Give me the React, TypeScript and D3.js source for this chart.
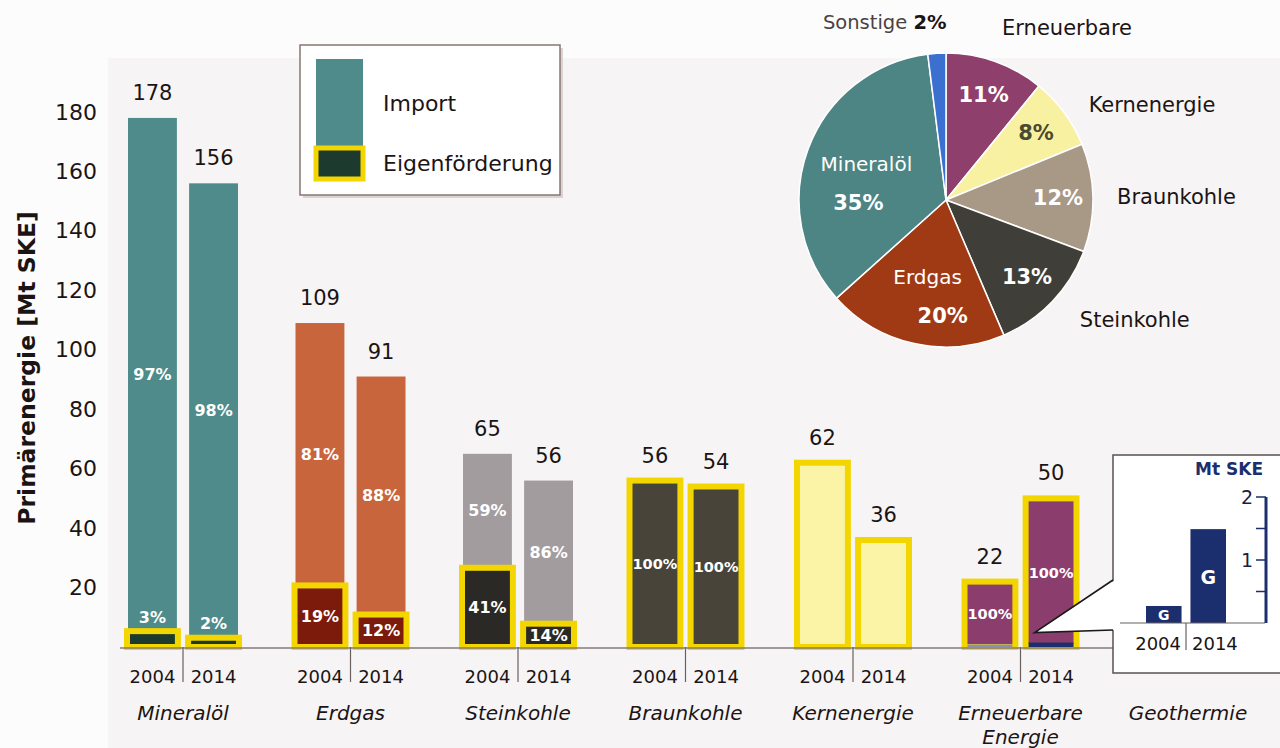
import React from "react";
import * as d3 from "d3";

const categories = ["Mineralöl", "Erdgas", "Steinkohle", "Braunkohle", "Kernenergie", "Erneuerbare Energie", "Geothermie"];
const years = ["2004", "2014"];
const total2004 = [178, 109, 65, 56, 62, 22];
const total2014 = [156, 91, 56, 54, 36, 50];
const domesticPct2004: (number | null)[] = [3, 19, 41, 100, null, 100];
const domesticPct2014: (number | null)[] = [2, 12, 14, 100, null, 100];
const geothermie = [0.27, 1.49];
const yTicks = [20, 40, 60, 80, 100, 120, 140, 160, 180];
const insetTicks = [0.5, 1, 1.5, 2];
const insetTickLabels = [1, 2];
const pieNames = ["Erneuerbare", "Kernenergie", "Braunkohle", "Steinkohle", "Erdgas", "Mineralöl", "Sonstige"];
const pieShares = [11, 8, 12, 13, 20, 35, 2];

const importColors = ["#4f8b8a", "#c8653d", "#a39c9f", "#48443a", "#fbf4a6", "#8b3d6d"];
const domesticColors = ["#1d3a2e", "#7c1b0b", "#2a2925", "#48443a", "#fbf4a6", "#8b3d6d"];
const pieColors = ["#8e3f6c", "#f9f1a2", "#a89886", "#3f3e38", "#a03a14", "#4c8584", "#3c70d0"];
const pieNameNudge: [number, number][] = [[-6, 2], [-6, 15], [-14, 0], [0, -8], [0, 0], [0, 0], [12, 7]];
const YELLOW = "#f3d500";
const NAVY = "#1b2f6e";
const FONT = "'DejaVu Sans', Verdana, sans-serif";
const TXT = "#1c1414";

export default function App() {
  const W = 1280, H = 748;
  const y = d3.scaleLinear().domain([0, 180]).range([647, 112]);
  const x = d3.scaleBand().domain(categories).range([99.25, 1271.75]).padding(0);
  const sub = d3.scaleBand().domain(years).range([-55, 55]).paddingInner(0.2);
  const bw = sub.bandwidth();
  const y0 = y(0);
  const cx = (c: string) => (x(c) as number) + x.bandwidth() / 2;

  // inset scales
  const yi = d3.scaleLinear().domain([0, 2]).range([623, 497]);
  const subI = d3.scaleBand().domain(years).range([-42, 38]).paddingInner(0.2);
  const geoCx = cx(categories[6]);
  const divI = geoCx - 2;

  // pie
  const pcx = 946, pcy = 200, pr = 147;
  const pie = d3.pie<number>().sort(null).value((d) => d)(pieShares);
  const arc = d3.arc<d3.PieArcDatum<number>>().innerRadius(0).outerRadius(pr);
  const labelArc = d3.arc<d3.PieArcDatum<number>>().innerRadius(112).outerRadius(112);
  const innerArc = d3.arc<d3.PieArcDatum<number>>().innerRadius(85).outerRadius(85);
  const outerArc = d3.arc<d3.PieArcDatum<number>>().innerRadius(185).outerRadius(185);

  const bars: React.ReactNode[] = [];
  const labels: React.ReactNode[] = [];
  categories.slice(0, 6).forEach((c, i) => {
    const vals = [total2004[i], total2014[i]];
    const pcts = [domesticPct2004[i], domesticPct2014[i]];
    years.forEach((yr, j) => {
      const v = vals[j];
      const p = pcts[j];
      const bx = cx(c) + (sub(yr) as number);
      const top = y(v);
      const key = `${i}-${j}`;
      if (p === null) {
        bars.push(
          <rect key={key} x={bx - 1} y={top} width={bw + 2} height={y0 - top} fill={importColors[i]} stroke={YELLOW} strokeWidth={6} />
        );
      } else if (p === 100) {
        bars.push(
          <rect key={key} x={bx - 1} y={top} width={bw + 2} height={y0 - top} fill={domesticColors[i]} stroke={YELLOW} strokeWidth={6} />
        );
        if (i === 5) {
          const gTop = Math.min(y(geothermie[j]), y0 - 2.5);
          bars.push(
            <rect key={key + "g"} x={bx + 2} y={gTop} width={bw - 4} height={y0 - gTop} fill={j === 0 ? "#8c90b0" : NAVY} />
          );
        }
        labels.push(
          <text key={key + "p"} x={bx + bw / 2} y={(top + y0) / 2} textAnchor="middle" dominantBaseline="central" fill="#fff" fontWeight="bold" fontSize={14.5}>
            100%
          </text>
        );
      } else {
        const dom = (v * p) / 100;
        const dTop = y(dom);
        bars.push(<rect key={key} x={bx} y={top} width={bw} height={y0 - top} fill={importColors[i]} />);
        bars.push(
          <rect key={key + "d"} x={bx - 1} y={dTop} width={bw + 2} height={y0 - dTop} fill={domesticColors[i]} stroke={YELLOW} strokeWidth={6} />
        );
        labels.push(
          <text key={key + "i"} x={bx + bw / 2} y={(top + dTop) / 2} textAnchor="middle" dominantBaseline="central" fill="#fff" fontWeight="bold" fontSize={16}>
            {`${100 - p}%`}
          </text>
        );
        const inside = y0 - dTop > 20;
        labels.push(
          <text key={key + "dl"} x={bx + bw / 2} y={inside ? (dTop + y0) / 2 : dTop - 14} textAnchor="middle" dominantBaseline="central" fill="#fff" fontWeight="bold" fontSize={16}>
            {`${p}%`}
          </text>
        );
      }
      labels.push(
        <text key={key + "v"} x={bx + bw / 2} y={top - 25} textAnchor="middle" dominantBaseline="central" fill={TXT} fontSize={21}>
          {v}
        </text>
      );
    });
  });

  // callout geometry
  const erX = cx(categories[5]) + (sub("2014") as number);
  const tipX = erX + 8;
  const tipY = y(geothermie[1]) - 10;
  const boxX = 1113, boxY = 455, boxH = 218;
  const cTop = 580, cBot = 630;

  return (
    <svg width={W} height={H} style={{ position: "absolute", left: 0, top: 0 }} fontFamily={FONT}>
      <rect x={0} y={0} width={W} height={H} fill="#fdfcfc" />
      <rect x={108} y={58} width={W - 108} height={H - 58} fill="#f6f4f4" />

      {/* y axis */}
      {yTicks.map((t) => (
        <text key={t} x={97} y={y(t)} textAnchor="end" dominantBaseline="central" fontSize={22} fill={TXT}>
          {t}
        </text>
      ))}
      <text transform={`translate(27,${368}) rotate(-90)`} textAnchor="middle" dominantBaseline="central" fontSize={23.5} fontWeight="bold" fill={TXT}>
        Primärenergie [Mt SKE]
      </text>

      {/* legend */}
      <rect x={303} y={48} width={260} height={150} fill="#d8d4d4" />
      <rect x={300} y={45} width={260} height={150} fill="#fff" stroke="#8a7474" strokeWidth={1.5} />
      <rect x={316} y={59} width={47} height={88} fill={importColors[0]} />
      <rect x={316} y={148} width={47} height={31} fill={domesticColors[0]} stroke={YELLOW} strokeWidth={5} />
      <text x={383} y={103} dominantBaseline="central" fontSize={22} fill={TXT}>Import</text>
      <text x={383} y={163} dominantBaseline="central" fontSize={22} fill={TXT}>Eigenförderung</text>

      {/* bars */}
      {bars}
      <line x1={120} x2={boxX} y1={y0 + 1} y2={y0 + 1} stroke="#857a7a" strokeWidth={1.5} />
      {labels}

      {/* x labels */}
      {categories.slice(0, 6).map((c) => (
        <g key={c}>
          <line x1={cx(c)} x2={cx(c)} y1={y0} y2={y0 + 35} stroke="#6a6060" strokeWidth={1.2} />
          {years.map((yr) => (
            <text key={yr} x={cx(c) + (sub(yr) as number) + bw / 2} y={676} textAnchor="middle" dominantBaseline="central" fontSize={18} fill={TXT}>
              {yr}
            </text>
          ))}
        </g>
      ))}
      {categories.map((c) => {
        const parts = c.split(" ");
        return parts.map((p, k) => (
          <text key={c + k} x={cx(c)} y={713 + k * 24} textAnchor="middle" dominantBaseline="central" fontSize={20} fontStyle="italic" fill={TXT}>
            {p}
          </text>
        ));
      })}

      {/* inset */}
      <rect x={boxX} y={boxY} width={200} height={boxH} fill="#fff" stroke="#5a5050" strokeWidth={1.5} />
      <polygon points={`${boxX + 2},${cTop} ${tipX},${tipY} ${boxX + 2},${cBot}`} fill="#fff" />
      <polyline points={`${boxX},${cTop} ${tipX},${tipY} ${boxX},${cBot}`} fill="none" stroke="#1a1a1a" strokeWidth={1.6} />
      {years.map((yr, j) => {
        const bx = geoCx + (subI(yr) as number);
        const bwi = subI.bandwidth();
        const t = yi(geothermie[j]);
        return (
          <g key={yr}>
            <rect x={bx} y={t} width={bwi} height={yi(0) - t} fill={NAVY} />
            <text x={bx + bwi / 2} y={(t + yi(0)) / 2 + 1} textAnchor="middle" dominantBaseline="central" fill="#fff" fontWeight="bold" fontSize={j === 0 ? 14 : 19}>
              G
            </text>
            <text x={j === 0 ? divI - 5 : divI + 6} y={643} textAnchor={j === 0 ? "end" : "start"} dominantBaseline="central" fontSize={18} fill={TXT}>
              {yr}
            </text>
          </g>
        );
      })}
      <line x1={1120} x2={1265} y1={yi(0)} y2={yi(0)} stroke="#6a6060" strokeWidth={1.2} />
      <line x1={divI} x2={divI} y1={yi(0)} y2={yi(0) + 27} stroke="#6a6060" strokeWidth={1.2} />
      <line x1={1266} x2={1266} y1={yi(0)} y2={yi(2)} stroke={NAVY} strokeWidth={3} />
      {insetTicks.map((t) => (
        <line key={t} x1={1256} x2={1266} y1={yi(t)} y2={yi(t)} stroke={NAVY} strokeWidth={1.5} />
      ))}
      {insetTickLabels.map((t) => (
        <text key={t} x={1253} y={yi(t)} textAnchor="end" dominantBaseline="central" fontSize={19} fill="#1a1d44">
          {t}
        </text>
      ))}
      <text x={1263} y={469} textAnchor="end" dominantBaseline="central" fontSize={17} fontWeight="bold" fill={NAVY}>
        Mt SKE
      </text>

      {/* pie */}
      <g transform={`translate(${pcx},${pcy})`}>
        {pie.map((d, i) => (
          <path key={i} d={arc(d) as string} fill={pieColors[i]} stroke="#fff" strokeWidth={1.5} />
        ))}
        {pie.map((d, i) => {
          const name = pieNames[i];
          const pct = `${pieShares[i]}%`;
          const [ox, oy] = outerArc.centroid(d);
          const [nx, ny] = pieNameNudge[i];
          if (name === "Sonstige") {
            return (
              <text key={i} x={ox + nx} y={oy + ny} textAnchor="end" dominantBaseline="central" fontSize={19.5} fill="#4a4242">
                Sonstige <tspan fontWeight="bold" fill={TXT}>{pct}</tspan>
              </text>
            );
          }
          if (name === "Erdgas" || name === "Mineralöl") {
            const [ix, iy] = innerArc.centroid(d);
            return (
              <g key={i}>
                <text x={ix} y={iy - 6} textAnchor="middle" dominantBaseline="central" fontSize={20} fill="#fff">
                  {name}
                </text>
                <text x={ix + (name === "Erdgas" ? 15 : -8)} y={iy + 33} textAnchor="middle" dominantBaseline="central" fontSize={21} fontWeight="bold" fill="#fff">
                  {pct}
                </text>
              </g>
            );
          }
          const [lx, ly] = labelArc.centroid(d);
          return (
            <g key={i}>
              <text x={lx} y={ly} textAnchor="middle" dominantBaseline="central" fontSize={21} fontWeight="bold" fill={name === "Kernenergie" ? "#4a4a30" : "#fff"}>
                {pct}
              </text>
              <text x={ox + nx} y={oy + ny} textAnchor="start" dominantBaseline="central" fontSize={21} fill={TXT}>
                {name}
              </text>
            </g>
          );
        })}
      </g>
    </svg>
  );
}
